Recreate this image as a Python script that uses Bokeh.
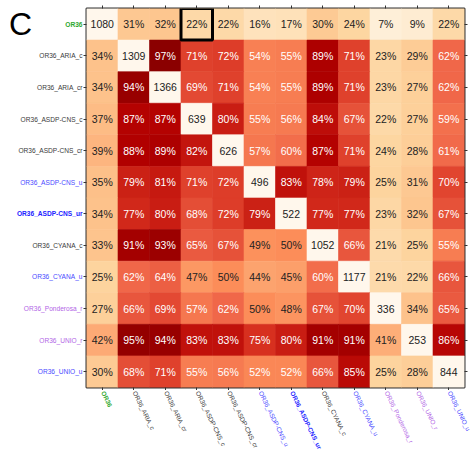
from bokeh.plotting import figure
from bokeh.layouts import column, row
from bokeh.models import ColumnDataSource, Range1d, FixedTicker, LinearAxis
from bokeh.embed import file_html
from bokeh.resources import INLINE
from bokeh.core.properties import value, field

# Structure sets compared pairwise; diagonal holds the set size, off-diagonal the % overlap
methods = [
    "OR36", "OR36_ARIA_c", "OR36_ARIA_cr", "OR36_ASDP-CNS_c", "OR36_ASDP-CNS_cr",
    "OR36_ASDP-CNS_u", "OR36_ASDP-CNS_ur", "OR36_CYANA_c", "OR36_CYANA_u",
    "OR36_Ponderosa_r", "OR36_UNIO_r", "OR36_UNIO_u",
]
label_colors = [
    "#2ea82e", "#3a3a3a", "#3a3a3a", "#3a3a3a", "#3a3a3a",
    "#4a4aff", "#2222ff", "#3a3a3a", "#4a4aff",
    "#b266e6", "#b266e6", "#4a4aff",
]
label_styles = [
    "bold", "normal", "normal", "normal", "normal",
    "normal", "bold", "normal", "normal",
    "normal", "normal", "normal",
]
overlap = [
    [1080, 31, 32, 22, 22, 16, 17, 30, 24, 7, 9, 22],
    [34, 1309, 97, 71, 72, 54, 55, 89, 71, 23, 29, 62],
    [34, 94, 1366, 69, 71, 54, 55, 89, 71, 23, 27, 62],
    [37, 87, 87, 639, 80, 55, 56, 84, 67, 22, 27, 59],
    [39, 88, 89, 82, 626, 57, 60, 87, 71, 24, 28, 61],
    [35, 79, 81, 71, 72, 496, 83, 78, 79, 25, 31, 70],
    [34, 77, 80, 68, 72, 79, 522, 77, 77, 23, 32, 67],
    [33, 91, 93, 65, 67, 49, 50, 1052, 66, 21, 25, 55],
    [25, 62, 64, 47, 50, 44, 45, 60, 1177, 21, 22, 66],
    [27, 66, 69, 57, 62, 50, 48, 67, 70, 336, 34, 65],
    [42, 95, 94, 83, 83, 75, 80, 91, 91, 41, 253, 86],
    [30, 68, 71, 55, 56, 52, 52, 66, 85, 25, 28, 844],
]
highlight = (0, 3)  # (row, column)
panel_letter = "C"

FONT = "Liberation Sans"

# OrRd colour ramp
ORRD = ["#fff7ec", "#fee8c8", "#fdd49e", "#fdbb84", "#fc8d59",
        "#ef6548", "#d7301f", "#b30000", "#7f0000"]


def orrd(t):
    t = min(max(t, 0.0), 1.0)
    pos = t * (len(ORRD) - 1)
    i = min(int(pos), len(ORRD) - 2)
    f = pos - i
    a = [int(ORRD[i][k:k + 2], 16) for k in (1, 3, 5)]
    b = [int(ORRD[i + 1][k:k + 2], 16) for k in (1, 3, 5)]
    c = [round(a[j] + (b[j] - a[j]) * f) for j in range(3)]
    return "#%02x%02x%02x" % tuple(c)


n = len(methods)
xs, ys, fills, texts, tcolors = [], [], [], [], []
for r in range(n):
    for c in range(n):
        v = overlap[r][c]
        xs.append(c + 0.5)
        ys.append(r + 0.5)
        if r == c:
            fills.append(orrd(0.0))
            texts.append(str(v))
            tcolors.append("#222222")
        else:
            fills.append(orrd(v / 100.0))
            texts.append(f"{v}%")
            tcolors.append("#ffffff" if v > 50 else "#222222")

cells = ColumnDataSource(dict(x=xs, y=ys, fill=fills, text=texts, tcolor=tcolors))
centers = [i + 0.5 for i in range(n)]

# Layout geometry (pixels)
LEFT_W = 83          # width of the row-label strip
FRAME_W = 378        # heatmap frame width
FRAME_H = 379        # heatmap frame height
TOP = 8
MAIN_H = TOP + FRAME_H + 3
BOTTOM_H = 450 - MAIN_H
CELL = FRAME_W / n


def bare(fig):
    fig.xgrid.visible = False
    fig.ygrid.visible = False
    fig.outline_line_color = None
    return fig


# ---- heatmap ----
main = figure(width=3 + FRAME_W + 8, height=MAIN_H,
              x_range=Range1d(0, n), y_range=Range1d(n, 0),
              output_backend="svg", toolbar_location=None,
              x_axis_location=None, y_axis_location=None,
              min_border_left=3, min_border_right=8,
              min_border_top=TOP, min_border_bottom=3)
bare(main)
main.outline_line_color = "#333333"
main.outline_line_width = 2

for loc in ("left", "right", "above", "below"):
    ax = LinearAxis(ticker=FixedTicker(ticks=centers),
                    major_label_text_font_size="0px", major_label_standoff=0,
                    major_tick_out=3, major_tick_in=0,
                    minor_tick_out=0, minor_tick_in=0,
                    axis_line_color=None, major_tick_line_color="#333333",
                    major_tick_line_width=1)
    main.add_layout(ax, loc)

main.rect(x="x", y="y", width=1, height=1, fill_color="fill", line_color="fill",
          line_width=0.6, source=cells)
main.text(x="x", y="y", text="text", text_color="tcolor", text_align="center",
          text_baseline="middle", text_font=value(FONT),
          text_font_size="10.5px", source=cells)

hr, hc = highlight
main.rect(x=[hc + 0.5], y=[hr + 0.5], width=1, height=1, fill_color=None,
          line_color="black", line_width=3)

# ---- row labels (shares the heatmap's y scale) ----
left = figure(width=LEFT_W, height=MAIN_H,
              x_range=Range1d(0, LEFT_W), y_range=main.y_range,
              output_backend="svg", toolbar_location=None,
              x_axis_location=None, y_axis_location=None,
              min_border_left=0, min_border_right=0,
              min_border_top=TOP, min_border_bottom=3)
bare(left)
row_src = ColumnDataSource(dict(x=[LEFT_W - 1] * n, y=centers, text=methods,
                                color=label_colors, style=label_styles))
left.text(x="x", y="y", text="text", source=row_src,
          text_align="right", text_baseline="middle",
          text_color=field("color"), text_font_style=field("style"),
          text_font=value(FONT), text_font_size="6.6px")
left.text(x=[8.5], y=[0.49], text=[panel_letter], text_align="left",
          text_baseline="middle", text_color="black",
          text_font=value(FONT), text_font_size="32px")

# ---- column labels (same column scale as the heatmap) ----
x0 = -(LEFT_W + 3) / CELL
x1 = x0 + 472 / CELL
bottom = figure(width=472, height=BOTTOM_H,
                x_range=Range1d(x0, x1), y_range=Range1d(BOTTOM_H, 0),
                output_backend="svg", toolbar_location=None,
                x_axis_location=None, y_axis_location=None,
                min_border_left=0, min_border_right=0,
                min_border_top=0, min_border_bottom=0)
bare(bottom)
col_src = ColumnDataSource(dict(x=centers, y=[1.0] * n, text=methods,
                                color=label_colors, style=label_styles))
bottom.text(x="x", y="y", text="text", source=col_src,
            x_offset=1, angle=-64, angle_units="deg",
            text_align="left", text_baseline="middle",
            text_color=field("color"), text_font_style=field("style"),
            text_font=value(FONT), text_font_size="6.4px")

layout = column(row(left, main, spacing=0), bottom, spacing=0)

open("out.html", "w").write(file_html(layout, INLINE))
